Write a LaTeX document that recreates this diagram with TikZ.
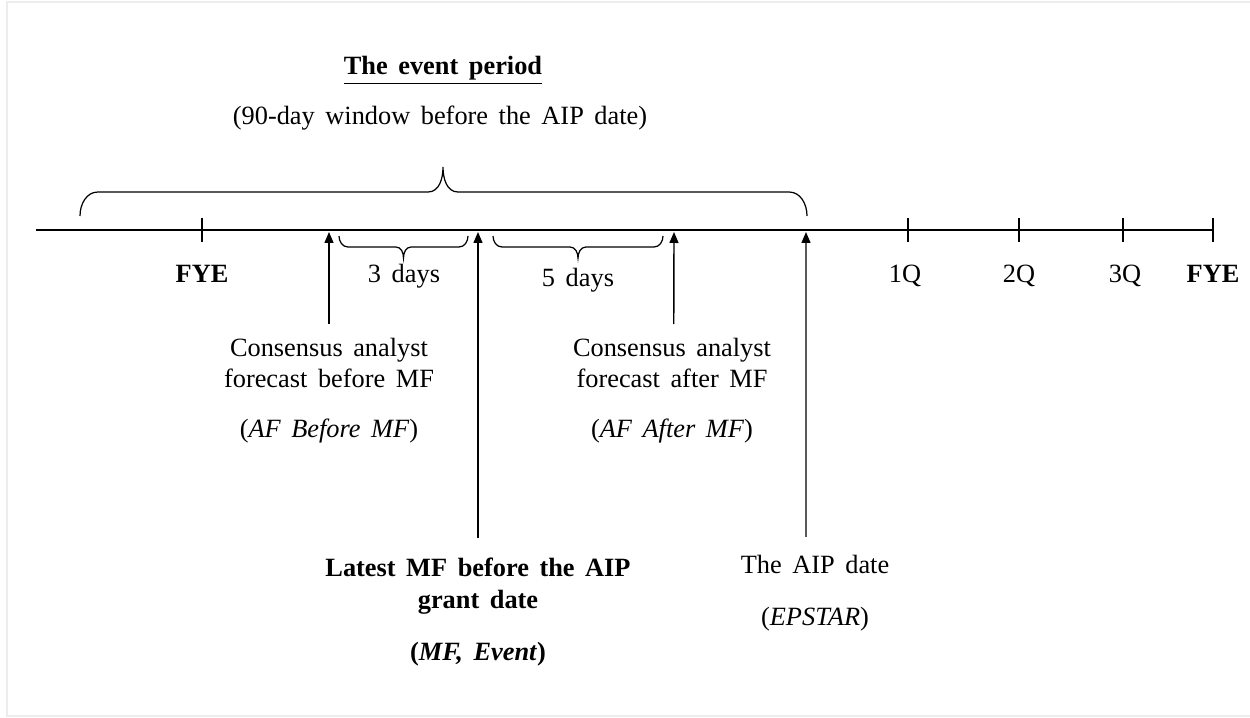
\documentclass[tikz,border=0pt]{standalone}
\usepackage{fontspec}
\setmainfont{Liberation Serif}[WordSpace=1.6]
\usepackage{tikz}
\usetikzlibrary{arrows.meta}
\tikzset{
  lbl/.style={font=\fontsize{15}{18}\selectfont, align=center, anchor=base, inner sep=2pt},
  arr/.style={-{Triangle[length=2.2mm,width=1.8mm]}, line width=0.8pt},
  axis/.style={line width=1.4pt},
  tick/.style={line width=1.1pt},
  brc/.style={line width=0.7pt},
}
\begin{document}
\begin{tikzpicture}[x=0.02cm,y=0.02cm]
\useasboundingbox (0,0) rectangle (1250,717);
\draw[gray!15, line width=1.1pt] (1250,715) -- (7,715) -- (7,1) -- (1250,1);
% title
\node[lbl] (ttl) at (443,642) {\textbf{\underline{The event period}}};
\node[lbl] (win) at (440,592) {(90-day window before the AIP date)};
% time line
\coordinate (tl0) at (36,487);
\coordinate (tl1) at (1213,487);
\draw[axis] (tl0) -- (tl1);
\draw[tick] (202,475) -- (202,499);
\draw[tick] (908,475) -- (908,499);
\draw[tick] (1019,475) -- (1019,499);
\draw[tick] (1123,475) -- (1123,499);
\draw[tick] (1213,475) -- (1213,499);
\node[lbl] (fye0) at (202,434) {\textbf{FYE}};
\node[lbl] (q1) at (905,434) {1Q};
\node[lbl] (q2) at (1019,434) {2Q};
\node[lbl] (q3) at (1125,434) {3Q};
\node[lbl] (fye1) at (1213,434) {\textbf{FYE}};
% braces
\draw[brc] (80,501) to[out=90,in=180] (98,525) -- (428,525) to[out=0,in=-90] (443,550)
  to[out=-90,in=180] (458,525) -- (789,525) to[out=0,in=90] (807,501);
\draw[brc] (339,481) to[out=-90,in=180] (348,470) -- (396,470) to[out=0,in=90] (403.5,459)
  to[out=90,in=180] (411,470) -- (459,470) to[out=0,in=-90] (468,481);
\draw[brc] (493,481) to[out=-90,in=180] (502,470) -- (570,470) to[out=0,in=90] (578,459)
  to[out=90,in=180] (586,470) -- (654,470) to[out=0,in=-90] (663,481);
\node[lbl] (d3) at (404,434) {3 days};
\node[lbl] (d5) at (578,430) {5 days};
% events
\node[lbl] (afb) at (329,329) {Consensus analyst\\forecast before MF};
\node[lbl] (afbk) at (329,279) {(\textit{AF Before MF})};
\node[lbl] (afa) at (672,329) {Consensus analyst\\forecast after MF};
\node[lbl] (afak) at (672,279) {(\textit{AF After MF})};
\node[lbl, font=\fontsize{15}{18}\selectfont\bfseries] (mf) at (478,109) {Latest MF before the AIP\\grant date};
\node[lbl] (mfk) at (478,57) {\textbf{(\textit{MF, Event})}};
\node[lbl] (aip) at (815,144) {The AIP date};
\node[lbl] (aipk) at (815,92) {(\textit{EPSTAR})};
\coordinate (pafb) at (329,485);
\coordinate (pmf) at (478,485);
\coordinate (pafa) at (674,485);
\coordinate (paip) at (806,485);
\draw[arr] ([yshift=2mm]afb.north) -- (pafb);
\draw[arr] ([yshift=3.2mm]mf.north) -- (pmf);
\draw[arr] ([yshift=2mm,xshift=1pt]afa.north) -- (pafa);
\draw[arr] ([yshift=2.8mm,xshift=-1.8mm]aip.north) -- (paip);
\end{tikzpicture}
\end{document}
